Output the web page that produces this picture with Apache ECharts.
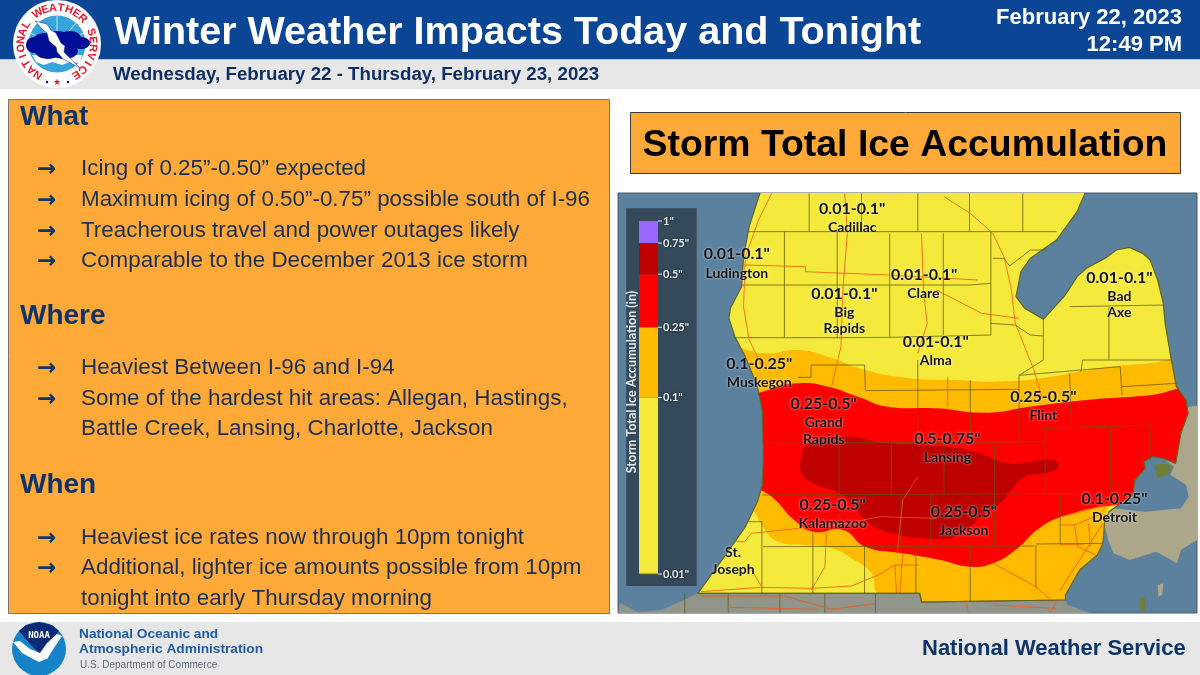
<!DOCTYPE html>
<html>
<head>
<meta charset="utf-8">
<title>Winter Weather Impacts</title>
<style>html,body{margin:0;padding:0;background:#fff}#chart{width:1200px;height:675px}</style>
<script src="https://cdn.jsdelivr.net/npm/echarts@6/dist/echarts.min.js"></script>
</head>
<body>
<div id="chart"></div>
<script>
// text of the slide
var headerTitle = 'Winter Weather Impacts Today and Tonight';
var headerDates = 'Wednesday, February 22 - Thursday, February 23, 2023';
var issuedDate = 'February 22, 2023';
var issuedTime = '12:49 PM';
var mapTitle = 'Storm Total Ice Accumulation';
var whatLines = ['Icing of 0.25”-0.50” expected', 'Maximum icing of 0.50”-0.75” possible south of I-96', 'Treacherous travel and power outages likely', 'Comparable to the December 2013 ice storm'];
var whereLines = ['Heaviest Between I-96 and I-94', 'Some of the hardest hit areas: Allegan, Hastings,', 'Battle Creek, Lansing, Charlotte, Jackson'];
var whenLines = ['Heaviest ice rates now through 10pm tonight', 'Additional, lighter ice amounts possible from 10pm', 'tonight into early Thursday morning'];

// colour bar, inches
var barStops = [0.01, 0.1, 0.25, 0.5, 0.75, 1];
var barColors = ['#f5ea3c', '#ffbb00', '#ff0000', '#bf0000', '#9966ff'];

// map outlines, in map units
var michigan = [[380,5],[350,110],[335,200],[330,290],[300,355],[296,385],[312,440],[340,500],[372,590],[385,660],[388,800],[385,885],[372,935],[340,1010],[290,1090],[213,1210],[805,1210],[810,1236],[1194,1230],[1194,1215],[1232,1140],[1279,1095],[1294,1060],[1298,1000],[1310,965],[1374,915],[1379,870],[1407,835],[1403,815],[1426,800],[1455,805],[1488,820],[1502,730],[1521,670],[1516,630],[1490,590],[1475,500],[1460,400],[1455,340],[1440,270],[1420,210],[1400,190],[1365,172],[1330,180],[1300,205],[1250,235],[1225,260],[1205,295],[1190,320],[1135,388],[1085,355],[1062,320],[1075,245],[1100,205],[1170,150],[1225,65],[1248,5]];
var ontario = [[1523,650],[1560,645],[1560,1040],[1502,1080],[1492,1120],[1436,1085],[1365,1110],[1322,1090],[1308,1050],[1294,985],[1300,960],[1400,800],[1500,700]];
var stClair = [[1403,815],[1426,800],[1455,805],[1483,830],[1474,855],[1516,885],[1523,920],[1502,955],[1407,965],[1322,955],[1374,920],[1379,870]];
var stClairMarsh = [[1431,825],[1459,820],[1483,830],[1464,855],[1440,865]];
var peleeIsland = [[1440,1185],[1455,1180],[1452,1215],[1442,1220]];
var bassIsland = [[1392,1225],[1405,1222],[1408,1260],[1394,1262]];
var southStates = [[5,1239],[27,1251],[53,1266],[115,1260],[176,1230],[213,1210],[805,1210],[810,1238],[1194,1230],[1200,1245],[1275,1275],[0,1275]];
var orangeZone = [[250,480],[400,490],[480,480],[560,500],[660,540],[780,565],[900,570],[1000,575],[1130,565],[1280,535],[1420,520],[1600,500],[1600,1000],[1310,950],[1400,1250],[810,1280],[694,1210],[676,1150],[623,1105],[570,1075],[498,1065],[427,1055],[392,1020],[360,960],[300,900]];
var redZone = [[340,640],[400,600],[480,580],[560,590],[640,620],[720,650],[850,655],[980,668],[1100,650],[1250,630],[1400,618],[1600,600],[1620,800],[1480,930],[1290,950],[1200,975],[1130,1010],[1060,1080],[1000,1120],[940,1130],[860,1110],[760,1090],[660,1070],[600,1020],[520,1025],[470,990],[420,930],[340,850]];
var darkRedZone = [[490,800],[510,760],[600,740],[720,760],[830,765],[950,785],[1040,820],[1100,815],[1160,810],[1175,830],[1140,850],[1085,860],[1050,900],[1020,940],[960,990],[900,1040],[820,1045],[730,1030],[670,1000],[630,950],[590,910],[520,880],[490,850]];

var countyLines = [
  [[345,125],[1170,125]], [[510,10],[510,125]], [[650,10],[650,125]], [[800,10],[800,125]], [[938,10],[938,125]], [[1080,10],[1080,125]],
  [[330,285],[940,285],[995,280]], [[444,125],[444,443]], [[585,125],[585,445]], [[725,130],[725,440]], [[868,130],[868,435]], [[995,125],[995,435]],
  [[310,443],[585,443],[725,442],[995,435]], [[995,400],[1060,405],[1100,435],[1135,438]], [[1135,385],[1135,510],[1070,556]],
  [[1000,205],[1030,205],[1045,228],[1100,180],[1145,180]], [[1205,350],[1458,345]], [[1310,350],[1310,510]], [[1240,510],[1476,510]], [[1240,510],[1235,545]],
  [[1070,556],[1340,530],[1345,615]], [[1070,556],[1070,755]], [[1205,550],[1210,710]], [[1345,590],[1490,580]],
  [[480,562],[515,562],[515,525],[658,525],[660,600]], [[660,602],[1070,598]], [[800,510],[800,760]], [[940,570],[940,760]],
  [[388,760],[1140,755]], [[1140,715],[1420,705]], [[1140,715],[1140,910]], [[1315,710],[1315,905]], [[1420,705],[1420,810]],
  [[590,760],[590,915]], [[730,760],[730,915]], [[870,760],[870,915]], [[1005,760],[1005,1070]], [[385,915],[1310,910]],
  [[590,915],[590,1000]], [[755,915],[755,1070]], [[835,915],[835,1068]], [[1180,910],[1180,1060]], [[1115,1062],[1294,1060]], [[1115,1065],[1115,1195]],
  [[387,1070],[1110,1068]], [[520,1030],[520,1210]], [[658,1070],[658,1210]], [[795,1070],[795,1210]], [[940,1070],[940,1235]],
  [[345,995],[384,995],[384,1210]], [[213,1210],[805,1210],[810,1236],[1194,1230]],
  [[178,1212],[178,1272]], [[294,1212],[294,1272]], [[432,1212],[432,1272]], [[552,1212],[552,1272]], [[687,1212],[687,1272]]
];
var roadLines = [
  [[410,10],[375,90],[340,200],[335,350],[350,450],[385,530]], [[605,10],[612,130],[600,300],[595,470],[570,590]],
  [[810,130],[815,300],[825,400],[800,490]], [[870,20],[940,70],[1000,130],[1030,200],[1050,300],[1060,400],[1110,540],[1130,620]],
  [[335,225],[500,230],[500,245],[720,255],[960,270]], [[850,300],[970,370],[1070,385]], [[880,560],[880,650]],
  [[316,1055],[338,1055],[356,1030],[481,1015],[560,1010],[700,980],[850,985]], [[351,1130],[378,1180],[383,1190]],
  [[222,1205],[383,1192],[516,1195],[623,1188],[694,1155],[739,1125],[801,1125]], [[556,1030],[552,1130],[516,1200]],
  [[739,1125],[743,1210]], [[760,1090],[752,1210]], [[800,860],[760,930],[745,1090]], [[1000,1120],[1115,1190],[1160,1235]],
  [[1180,980],[1237,965],[1313,940]], [[1180,1005],[1218,1005],[1294,970]], [[1218,1005],[1227,1070],[1275,1095]],
  [[1180,1065],[1246,1062]], [[1294,1000],[1260,1060],[1180,1200]], [[1256,1000],[1260,1070]],
  [[222,1218],[445,1218],[570,1258],[690,1240]], [[294,1252],[534,1258]], [[930,1240],[935,1270]], [[1000,1245],[1170,1255]], [[1170,1236],[1150,1272]]
];

// labels printed on the map: text, x, y, large
var mapLabels = [
  ['0.01-0.1"',625,58,1],['Cadillac',625,112,0],['0.01-0.1"',317,193,1],['Ludington',317,250,0],
  ['0.01-0.1"',817,255,1],['Clare',815,310,0],['0.01-0.1"',604,311,1],['Big',604,367,0],['Rapids',604,415,0],
  ['0.01-0.1"',848,457,1],['Alma',848,512,0],['0.01-0.1"',1338,263,1],['Bad',1338,318,0],['Axe',1338,368,0],
  ['0.1-0.25"',377,522,1],['Muskegon',377,577,0],['0.25-0.5"',549,643,1],['Grand',549,697,0],['Rapids',549,748,0],
  ['0.25-0.5"',1135,622,1],['Flint',1135,677,0],['0.5-0.75"',879,747,1],['Lansing',879,802,0],
  ['0.25-0.5"',573,945,1],['Kalamazoo',573,1000,0],['0.25-0.5"',923,965,1],['Jackson',923,1020,0],
  ['0.1-0.25"',1325,927,1],['Detroit',1325,982,0],['St.',307,1088,0],['Joseph',307,1137,0]
];

// what the map series draws, bottom to top
var mapLayers = [];
mapLayers.push({ kind: 'area', pts: ontario, fill: '#aca68a' });
mapLayers.push({ kind: 'area', pts: stClair, fill: '#5b819f' });
mapLayers.push({ kind: 'area', pts: peleeIsland, fill: '#aca68a' });
mapLayers.push({ kind: 'area', pts: bassIsland, fill: '#6f7f3a' });
mapLayers.push({ kind: 'area', pts: southStates, fill: '#92958a' });
mapLayers.push({ kind: 'area', pts: michigan, fill: '#f5ea3c' });
mapLayers.push({ kind: 'zone', pts: orangeZone, fill: '#ffbb00' });
mapLayers.push({ kind: 'zone', pts: redZone, fill: '#ff0000' });
mapLayers.push({ kind: 'zone', pts: darkRedZone, fill: '#bf0000' });
mapLayers.push({ kind: 'area', pts: stClairMarsh, fill: '#6f7f3a' });
countyLines.forEach(function (l) { mapLayers.push({ kind: 'line', pts: l, stroke: 'rgba(95,90,20,0.75)', width: 1 }); });
roadLines.forEach(function (l) { mapLayers.push({ kind: 'line', pts: l, stroke: 'rgba(240,85,20,0.8)', width: 1 }); });
mapLayers.push({ kind: 'line', pts: michigan.concat([michigan[0]]), stroke: '#5f6420', width: 1.2 });
mapLayers.push({ kind: 'rect', pts: [[22,55],[210,1188]], fill: '#34495a' });
mapLabels.forEach(function (l) { mapLayers.push({ kind: 'text', label: l }); });

function renderMapLayer(params, api) {
  var layer = mapLayers[params.dataIndex];
  if (layer.kind === 'text') {
    var p = api.coord([layer.label[1], layer.label[2]]);
    return {
      type: 'text',
      style: {
        x: p[0], y: p[1], text: layer.label[0], align: 'center', verticalAlign: 'middle', fill: '#141414',
        font: (layer.label[3] ? 'bold 16px' : 'bold 14px') + ' Lato',
        textShadowColor: 'rgba(255,255,255,0.7)', textShadowBlur: 3
      }
    };
  }
  var pts = layer.pts.map(function (q) { return api.coord(q); });
  if (layer.kind === 'rect') {
    return { type: 'rect', shape: { x: pts[0][0], y: pts[0][1], width: pts[1][0] - pts[0][0], height: pts[1][1] - pts[0][1] }, style: { fill: layer.fill } };
  }
  if (layer.kind === 'line') {
    return { type: 'polyline', shape: { points: pts }, style: { fill: null, stroke: layer.stroke, lineWidth: layer.width } };
  }
  if (layer.kind === 'zone') {
    return {
      type: 'polygon', shape: { points: pts, smooth: 0.5 }, style: { fill: layer.fill },
      clipPath: { type: 'polygon', shape: { points: michigan.map(function (q) { return api.coord(q); }) } }
    };
  }
  return { type: 'polygon', shape: { points: pts }, style: { fill: layer.fill } };
}

function renderBar(params, api) {
  var lo = api.coord([0, api.value(0)]);
  var hi = api.coord([1, api.value(1)]);
  var kids = [
    { type: 'rect', shape: { x: lo[0], y: hi[1], width: hi[0] - lo[0], height: lo[1] - hi[1] }, style: { fill: barColors[params.dataIndex] } },
    { type: 'line', shape: { x1: hi[0], y1: hi[1], x2: hi[0] + 4, y2: hi[1] }, style: { stroke: '#e8edf0', lineWidth: 1 } }
  ];
  if (params.dataIndex === 0) {
    kids.push({ type: 'line', shape: { x1: lo[0], y1: lo[1], x2: hi[0], y2: lo[1] }, style: { stroke: '#6a6a20', lineWidth: 1 } });
    kids.push({ type: 'line', shape: { x1: hi[0], y1: lo[1], x2: hi[0] + 4, y2: lo[1] }, style: { stroke: '#e8edf0', lineWidth: 1 } });
  }
  return { type: 'group', children: kids };
}

var barData = barColors.map(function (c, i) { return [barStops[i], barStops[i + 1]]; });

// slide furniture
var NAVY = '#0f3468';
var BODY = '#1b3050';
var slide = [
  { type: 'rect', shape: { x: 0, y: 0, width: 1200, height: 59.5 }, style: { fill: '#0b4596' } },
  { type: 'rect', shape: { x: 0, y: 59.5, width: 1200, height: 29.5 }, style: { fill: '#e7e7e7' } },
  { type: 'rect', shape: { x: 0, y: 622, width: 1200, height: 53 }, style: { fill: '#e7e7e7' } },
  { type: 'rect', shape: { x: 8.5, y: 99.5, width: 601, height: 514 }, style: { fill: '#ffa939', stroke: '#7d7766', lineWidth: 1 } },
  { type: 'rect', shape: { x: 630.5, y: 112.5, width: 550, height: 61 }, style: { fill: '#ffa939', stroke: '#3a3a3a', lineWidth: 1 } },
  { type: 'text', style: { x: 114, y: 33, text: headerTitle, fill: '#fff', font: 'bold 39.5px "Liberation Sans"', verticalAlign: 'middle' } },
  { type: 'text', style: { x: 113, y: 75, text: headerDates, fill: '#0f2f66', font: 'bold 18.7px "Liberation Sans"', verticalAlign: 'middle' } },
  { type: 'text', style: { x: 1182, y: 18, text: issuedDate, fill: '#fff', font: 'bold 22px "Liberation Sans"', align: 'right', verticalAlign: 'middle' } },
  { type: 'text', style: { x: 1182, y: 45, text: issuedTime, fill: '#fff', font: 'bold 22px "Liberation Sans"', align: 'right', verticalAlign: 'middle' } },
  { type: 'text', style: { x: 905, y: 146, text: mapTitle, fill: '#000', font: 'bold 37.4px "Liberation Sans"', align: 'center', verticalAlign: 'middle' } },
  { type: 'text', style: { x: 922, y: 649, text: 'National Weather Service', fill: NAVY, font: 'bold 22px "Liberation Sans"', verticalAlign: 'middle' } },
  { type: 'text', style: { x: 79, y: 634, text: 'National Oceanic and', fill: '#1f5ca3', font: 'bold 13.7px "Liberation Sans"', verticalAlign: 'middle' } },
  { type: 'text', style: { x: 79, y: 649, text: 'Atmospheric Administration', fill: '#1f5ca3', font: 'bold 13.7px "Liberation Sans"', verticalAlign: 'middle' } },
  { type: 'text', style: { x: 80, y: 665, text: 'U.S. Department of Commerce', fill: '#5f6a75', font: '10px "Liberation Sans"', verticalAlign: 'middle' } }
];

function heading(text, y) {
  slide.push({ type: 'text', style: { x: 20, y: y, text: text, fill: NAVY, font: 'bold 28px "Liberation Sans"', verticalAlign: 'middle' } });
}
function bullet(text, y, arrow) {
  if (arrow) slide.push({ type: 'text', style: { x: 37, y: y + 1, text: '→', fill: NAVY, font: 'bold 23px "DejaVu Sans"', verticalAlign: 'middle' } });
  slide.push({ type: 'text', style: { x: 81, y: y, text: text, fill: BODY, font: '22.4px "Liberation Sans"', verticalAlign: 'middle' } });
}
heading('What', 117);
bullet(whatLines[0], 169, true); bullet(whatLines[1], 200, true); bullet(whatLines[2], 231, true); bullet(whatLines[3], 261, true);
heading('Where', 316);
bullet(whereLines[0], 368, true); bullet(whereLines[1], 399, true); bullet(whereLines[2], 429, false);
heading('When', 485);
bullet(whenLines[0], 538, true); bullet(whenLines[1], 568, true); bullet(whenLines[2], 599, false);

// colour bar caption
slide.push({ type: 'text', x: 632, y: 382, rotation: Math.PI / 2, z: 20, style: { text: 'Storm Total Ice Accumulation (in)', fill: '#e8edf0', font: 'bold 12.5px Lato', align: 'center', verticalAlign: 'middle' } });

// NWS seal
var sealX = 57, sealY = 44;
var SEAL_BLUE = '#000e96';
slide.push({ type: 'circle', shape: { cx: sealX, cy: sealY, r: 44 }, style: { fill: '#fff' } });
slide.push({ type: 'circle', shape: { cx: sealX, cy: sealY, r: 28.5 }, style: { fill: '#35a5dc' } });
[[57,45,57,16],[57,45,38,23],[57,45,76,23],[57,45,30,33],[57,45,84,33]].forEach(function (r) {
  slide.push({ type: 'line', shape: { x1: r[0], y1: r[1], x2: r[2], y2: r[3] }, style: { stroke: '#fff', lineWidth: 0.7 } });
});
slide.push({ type: 'polygon', shape: { points: [[32,55],[82,55],[80,63],[70,62],[62,65],[52,62],[44,65],[36,62]] }, style: { fill: '#fff' } });
[[34,45,8,8],[44,41,11,8],[57,38,13,7],[70,38,11,7],[81,43,9,6],[48,51,13,8],[64,51,14,8]].forEach(function (e) {
  slide.push({ type: 'ellipse', shape: { cx: e[0], cy: e[1], rx: e[2], ry: e[3] }, style: { fill: SEAL_BLUE } });
});
slide.push({ type: 'polygon', shape: { points: [[35,21],[47,24],[51,30],[56,33],[61,43],[65,46],[64,52],[80,68],[63,59],[57,52],[56,47],[49,41],[47,33],[42,29]] }, style: { fill: '#fff', stroke: SEAL_BLUE, lineWidth: 0.5 } });
var sealLetters = 'NATIONAL WEATHER SERVICE';
for (var i = 0; i < sealLetters.length; i++) {
  var rad = (-148 + i * (296 / (sealLetters.length - 1))) * Math.PI / 180;
  slide.push({
    type: 'text', x: sealX + 36 * Math.sin(rad), y: sealY - 36 * Math.cos(rad), rotation: -rad,
    style: { text: sealLetters[i], fill: '#e8172c', font: 'bold 11px "Liberation Sans"', align: 'center', verticalAlign: 'middle' }
  });
}
slide.push({ type: 'circle', shape: { cx: 47, cy: 82, r: 1.2 }, style: { fill: SEAL_BLUE } });
slide.push({ type: 'circle', shape: { cx: 68, cy: 82, r: 1.2 }, style: { fill: SEAL_BLUE } });
slide.push({ type: 'text', style: { x: 57, y: 83, text: '★', fill: '#e8172c', font: '9px "DejaVu Sans"', align: 'center', verticalAlign: 'middle' } });

// NOAA seal
slide.push({ type: 'circle', shape: { cx: 39, cy: 649, r: 27 }, style: { fill: '#1583c8' } });
slide.push({ type: 'polygon', shape: { points: [[19,631],[26,625],[39,622],[52,625],[59,631],[50,642],[41,655],[30,644]] }, style: { fill: '#0b2a78' } });
slide.push({ type: 'polygon', shape: { points: [[13,642],[20,641],[30,649],[40,653],[47,643],[57,634],[62,636],[54,648],[47,659],[51,657],[39,662],[33,659],[22,653]] }, style: { fill: '#fff' } });
slide.push({ type: 'text', style: { x: 39, y: 635.5, text: 'NOAA', fill: '#fff', font: 'bold 9px "DejaVu Sans Mono"', align: 'center', verticalAlign: 'middle' } });

var chart = echarts.init(document.getElementById('chart'));
chart.setOption({
  animation: false,
  backgroundColor: '#fff',
  graphic: { elements: slide },
  grid: [
    { left: 618, top: 193, width: 579, height: 420, show: true, backgroundColor: '#5b819f', borderColor: '#4a5a66', borderWidth: 1 },
    { left: 639, top: 221, width: 19, height: 353, z: 10 }
  ],
  xAxis: [
    { gridIndex: 0, type: 'value', min: 0, max: 1545, show: false },
    { gridIndex: 1, type: 'value', min: 0, max: 1, show: false }
  ],
  yAxis: [
    { gridIndex: 0, type: 'value', min: 9, max: 1269, inverse: true, show: false },
    {
      gridIndex: 1, type: 'log', logBase: 10, min: 0.01, max: 1, position: 'right', z: 12,
      axisLine: { show: false }, splitLine: { show: false }, minorTick: { show: false }, axisTick: { show: false },
      axisLabel: {
        customValues: barStops, margin: 5, color: '#e8edf0', fontFamily: 'Lato', fontWeight: 'bold', fontSize: 11,
        textShadowColor: '#111', textShadowBlur: 2,
        formatter: function (v) { return v + '"'; }
      }
    }
  ],
  series: [
    { type: 'custom', xAxisIndex: 0, yAxisIndex: 0, coordinateSystem: 'cartesian2d', clip: true, silent: true, renderItem: renderMapLayer, data: mapLayers.map(function (l, i) { return [i]; }), encode: { x: 0 } },
    { type: 'custom', xAxisIndex: 1, yAxisIndex: 1, coordinateSystem: 'cartesian2d', clip: false, silent: true, z: 11, renderItem: renderBar, data: barData, encode: { y: [0, 1] } }
  ]
});
</script>
</body>
</html>
